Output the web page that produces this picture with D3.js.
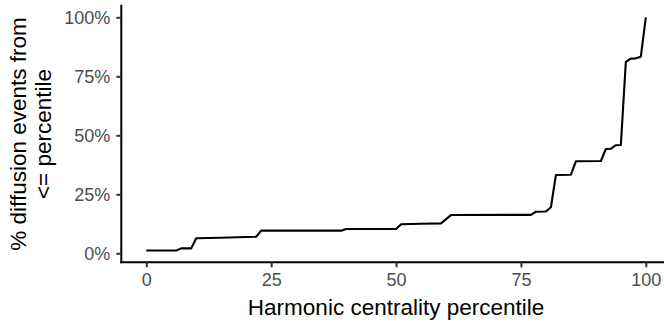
<!DOCTYPE html>
<html><head><meta charset="utf-8">
<script src="https://cdn.jsdelivr.net/npm/d3@7"></script>
<style>html,body{margin:0;padding:0;background:#fff;}svg{display:block;}</style>
</head><body>
<svg id="c" width="664" height="324"></svg>
<script>
const percentile = [0, 6, 7, 9, 10, 15, 20, 22, 23, 39, 40, 50, 51, 55, 59, 61, 77, 78, 80, 81, 82, 85, 86, 91, 92, 93, 94, 95, 96, 97, 98, 99, 100];
const cumShare   = [1.2, 1.2, 2.1, 2.1, 6.4, 6.6, 6.9, 7.0, 9.6, 9.6, 10.3, 10.3, 12.3, 12.5, 12.7, 16.2, 16.3, 17.6, 17.7, 19.5, 33.2, 33.3, 39.0, 39.1, 44.2, 44.3, 45.8, 45.9, 81.1, 82.5, 82.6, 83.3, 100];
const xTicks = [0, 25, 50, 75, 100];
const yTicks = [0, 25, 50, 75, 100];
const xTitle = "Harmonic centrality percentile";
const yTitle = ["% diffusion events from", "<= percentile"];

const data = percentile.map((p, i) => ({x: p, y: cumShare[i]}));
const svg = d3.select("#c");
const font = "'Liberation Sans', Arial, Helvetica, sans-serif";

const pL = 121.3, pR = 670.8, pT = 5.7, pB = 262.3;
const x = d3.scaleLinear().domain([-5, 105]).range([pL, pR]);
const y = d3.scaleLinear().domain([0, 100]).range([253.3, 17.3]);

// line
svg.append("path").datum(data)
  .attr("fill", "none").attr("stroke", "#000").attr("stroke-width", 2.1)
  .attr("stroke-linejoin", "round")
  .attr("d", d3.line().x(d => x(d.x)).y(d => y(d.y)));

// x axis
const gx = svg.append("g").attr("transform", `translate(0,${pB})`)
  .call(d3.axisBottom(x).tickValues(xTicks).tickSize(5).tickPadding(6).tickSizeOuter(0));
gx.select(".domain").attr("stroke", "#000").attr("stroke-width", 2).attr("d", `M${pL},0H${pR}`);
gx.selectAll(".tick line").attr("stroke", "#333").attr("stroke-width", 2);
gx.selectAll(".tick text").attr("fill", "#4D4D4D").attr("font-size", 18).attr("font-family", font);

// y axis
const gy = svg.append("g").attr("transform", `translate(${pL},0)`)
  .call(d3.axisLeft(y).tickValues(yTicks).tickFormat(d => d + "%").tickSize(5).tickPadding(6).tickSizeOuter(0));
gy.select(".domain").attr("stroke", "#000").attr("stroke-width", 2).attr("d", `M0,${pT}V${pB}`);
gy.selectAll(".tick line").attr("stroke", "#333").attr("stroke-width", 2);
gy.selectAll(".tick text").attr("fill", "#4D4D4D").attr("font-size", 18).attr("font-family", font);

svg.selectAll(".domain").attr("stroke-linecap", "square");

// titles
svg.append("text").attr("x", (pL + pR) / 2).attr("y", 315)
  .attr("text-anchor", "middle").attr("font-size", 22.5).attr("font-family", font)
  .attr("fill", "#000").text(xTitle);

const yt = svg.append("text").attr("transform", `translate(26,${(pT + pB) / 2}) rotate(-90)`)
  .attr("text-anchor", "middle").attr("font-size", 22.5).attr("font-family", font).attr("fill", "#000");
yt.append("tspan").attr("x", 0).attr("dy", 0).text(yTitle[0]);
yt.append("tspan").attr("x", 0).attr("dy", 25).text(yTitle[1]);
</script>
</body></html>
